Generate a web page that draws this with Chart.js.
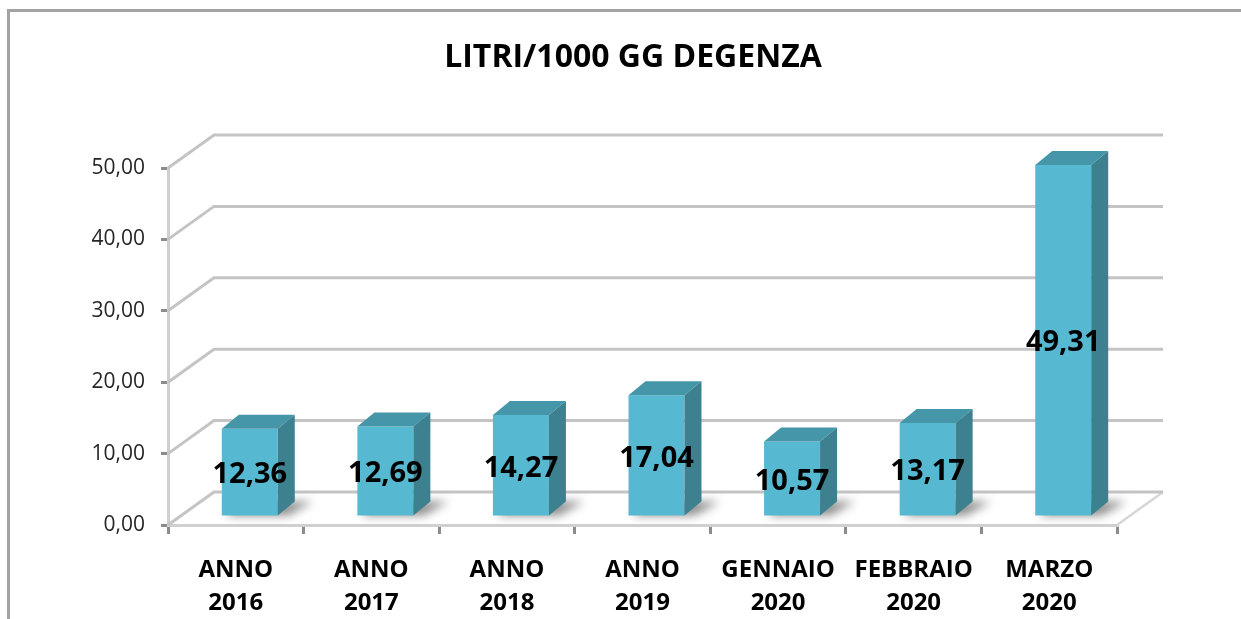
<!DOCTYPE html>
<html>
<head>
<meta charset="utf-8">
<script src="https://cdn.jsdelivr.net/npm/chart.js@4.4.1/dist/chart.umd.min.js"></script>
<style>
    html, body { margin: 0; padding: 0; background: #fff; overflow: hidden; }
    #chart { display: block; }
</style>
</head>
<body>
<canvas id="chart" width="1241" height="619"></canvas>
<script>
// Data
const chartTitle = 'LITRI/1000 GG DEGENZA';
const categories = [
    ['ANNO', '2016'],
    ['ANNO', '2017'],
    ['ANNO', '2018'],
    ['ANNO', '2019'],
    ['GENNAIO', '2020'],
    ['FEBBRAIO', '2020'],
    ['MARZO', '2020']
];
const values = [12.36, 12.69, 14.27, 17.04, 10.57, 13.17, 49.31];
const yTicks = [0, 10, 20, 30, 40, 50];

// 3D look
const WALL_X = 46, WALL_Y = 33;   // depth of back wall
const BAR_DX = 14, BAR_DY = -8;   // bars stand a bit inside the floor
const SIDE_X = 17, SIDE_Y = 14;   // bar depth
const FRONT = '#57b9d1', TOP = '#4496a8', SIDE = '#3d808f';

const comma = v => Number(v).toFixed(2).replace('.', ',');

const box3d = {
    id: 'box3d',
    beforeDraw(chart) {
        // outer frame of the sheet, left and top edges only
        const { ctx, width, height } = chart;
        ctx.save();
        ctx.strokeStyle = '#a3a3a3';
        ctx.lineWidth = 3;
        ctx.beginPath();
        ctx.moveTo(8.5, height);
        ctx.lineTo(8.5, 10.5);
        ctx.lineTo(width, 10.5);
        ctx.stroke();
        ctx.restore();
    },
    beforeDatasetsDraw(chart) {
        const { ctx, chartArea: a, scales: { y } } = chart;
        ctx.save();
        // floor edge on the right
        const y0 = y.getPixelForValue(0);
        ctx.strokeStyle = '#d6d6d6';
        ctx.lineWidth = 2.5;
        ctx.beginPath();
        ctx.moveTo(a.right, y0);
        ctx.lineTo(a.right + WALL_X, y0 - WALL_Y);
        ctx.stroke();
        // back wall gridlines with the side-wall diagonal
        ctx.strokeStyle = '#c4c4c4';
        ctx.lineWidth = 3;
        yTicks.forEach(v => {
            const py = y.getPixelForValue(v);
            ctx.beginPath();
            ctx.moveTo(a.left, py);
            ctx.lineTo(a.left + WALL_X, py - WALL_Y);
            ctx.lineTo(a.right + WALL_X, py - WALL_Y);
            ctx.stroke();
        });
        ctx.restore();

        // shift bars into the box, shadows first
        ctx.save();
        ctx.translate(BAR_DX, BAR_DY);
        const meta = chart.getDatasetMeta(0);
        ctx.save();
        ctx.filter = 'blur(5px)';
        ctx.fillStyle = 'rgba(0,0,0,0.45)';
        meta.data.forEach(bar => {
            const { x, base, width } = bar.getProps(['x', 'base', 'width'], true);
            const r = x + width / 2;
            ctx.beginPath();
            ctx.moveTo(x - width / 2 + 4, base);
            ctx.lineTo(r + 10, base);
            ctx.lineTo(r + SIDE_X + 18, base - SIDE_Y);
            ctx.lineTo(x - width / 2 + SIDE_X, base - SIDE_Y);
            ctx.closePath();
            ctx.fill();
        });
        ctx.restore();
    },
    afterDatasetsDraw(chart) {
        const { ctx } = chart;
        const meta = chart.getDatasetMeta(0);
        meta.data.forEach((bar, i) => {
            const { x, y, base, width } = bar.getProps(['x', 'y', 'base', 'width'], true);
            const l = x - width / 2, r = x + width / 2;
            ctx.fillStyle = TOP;
            ctx.beginPath();
            ctx.moveTo(l, y);
            ctx.lineTo(r, y);
            ctx.lineTo(r + SIDE_X, y - SIDE_Y);
            ctx.lineTo(l + SIDE_X, y - SIDE_Y);
            ctx.closePath();
            ctx.fill();
            ctx.fillStyle = SIDE;
            ctx.beginPath();
            ctx.moveTo(r, y);
            ctx.lineTo(r + SIDE_X, y - SIDE_Y);
            ctx.lineTo(r + SIDE_X, base - SIDE_Y);
            ctx.lineTo(r, base);
            ctx.closePath();
            ctx.fill();
            // value label centred in the bar
            ctx.fillStyle = '#000';
            ctx.font = 'bold 29px "Open Sans"';
            ctx.textAlign = 'center';
            ctx.textBaseline = 'middle';
            ctx.fillText(comma(values[i]), x, (y + base) / 2 + 3);
        });
        ctx.restore();
    },
    afterDraw(chart) {
        const { ctx } = chart;
        ctx.save();
        ctx.fillStyle = '#000';
        ctx.font = 'bold 32px "Open Sans"';
        ctx.textAlign = 'center';
        ctx.textBaseline = 'middle';
        ctx.fillText(chartTitle, 633, 58);
        ctx.restore();
    }
};

new Chart(document.getElementById('chart'), {
    type: 'bar',
    data: {
        labels: categories,
        datasets: [{
            data: values,
            backgroundColor: FRONT,
            borderWidth: 0,
            categoryPercentage: 1,
            barPercentage: 0.413,
            clip: false
        }]
    },
    options: {
        responsive: false,
        animation: false,
        layout: { padding: { left: 0, top: 168, right: 124, bottom: 0 } },
        plugins: {
            legend: { display: false },
            title: { display: false },
            tooltip: { enabled: false }
        },
        scales: {
            y: {
                min: 0,
                max: 50,
                afterFit: s => { s.width = 168; },
                afterBuildTicks: s => { s.ticks = yTicks.map(v => ({ value: v })); },
                ticks: {
                    callback: v => comma(v),
                    font: { family: 'Open Sans', size: 21 },
                    color: '#262626',
                    padding: 16
                },
                grid: {
                    drawOnChartArea: false,
                    drawTicks: true,
                    tickLength: 7,
                    color: '#8c8c8c',
                    lineWidth: 3
                },
                border: { color: '#cfcfcf', width: 3 }
            },
            x: {
                afterFit: s => { s.height = 94; },
                ticks: {
                    font: { family: 'Open Sans', size: 24, weight: 'bold', lineHeight: 1.4 },
                    color: '#000',
                    padding: 19,
                    maxRotation: 0
                },
                grid: {
                    offset: true,
                    drawOnChartArea: false,
                    drawTicks: true,
                    tickLength: 9,
                    color: '#8c8c8c',
                    lineWidth: 3
                },
                border: { color: '#d0d0d0', width: 3 }
            }
        }
    },
    plugins: [box3d]
});
</script>
</body>
</html>
